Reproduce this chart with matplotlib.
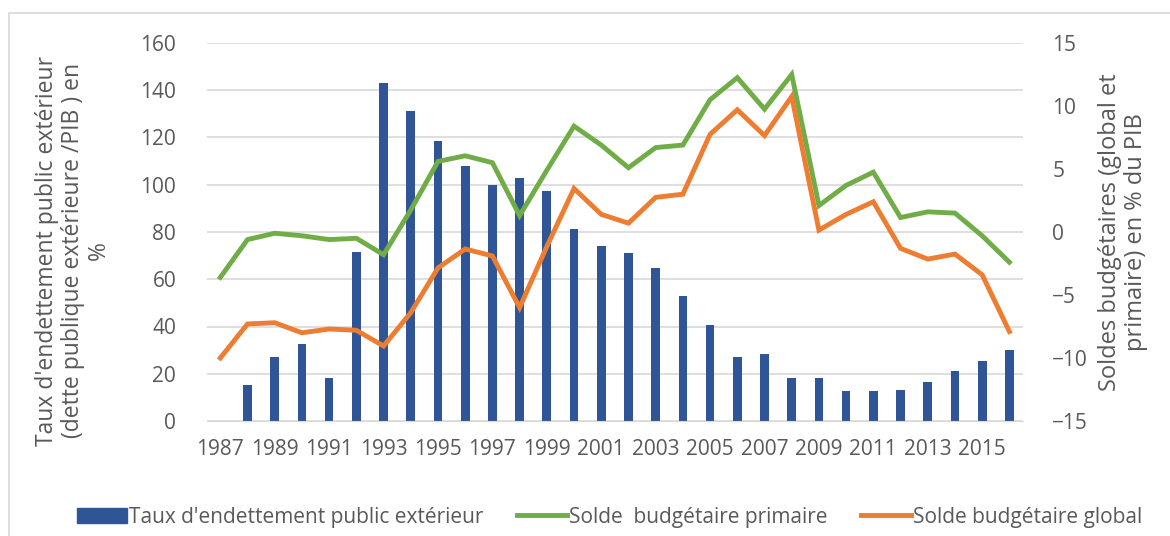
import numpy as np
import matplotlib.pyplot as plt
from matplotlib.lines import Line2D
from matplotlib.patches import Patch

plt.rcParams['font.family'] = ['Open Sans', 'DejaVu Sans']

years = list(range(1987, 2017))
dette = [0, 15.1, 27.0, 32.4, 18.4, 71.5, 143.1, 131.2, 118.6, 108.1,
         99.7, 103.0, 97.5, 81.2, 73.9, 71.0, 64.7, 52.8, 40.7, 27.3,
         28.5, 18.4, 18.4, 12.7, 12.9, 13.2, 16.7, 21.3, 25.4, 30.1]
solde_primaire = [-3.6, -0.6, -0.1, -0.3, -0.6, -0.5, -1.8, 1.75, 5.6, 6.05,
                  5.5, 1.3, 4.9, 8.4, 6.9, 5.1, 6.7, 6.9, 10.5, 12.25,
                  9.75, 12.5, 2.1, 3.7, 4.75, 1.15, 1.6, 1.5, -0.3, -2.4]
solde_global = [-10.0, -7.3, -7.2, -8.0, -7.7, -7.8, -9.05, -6.4, -2.85, -1.35,
                -1.9, -6.0, -1.15, 3.45, 1.4, 0.7, 2.75, 3.0, 7.75, 9.7,
                7.65, 10.75, 0.15, 1.4, 2.4, -1.3, -2.15, -1.75, -3.4, -7.9]

c_bar = '#2F5597'
c_green = '#70AD47'
c_orange = '#ED7D31'
c_text = '#595959'
c_grid = '#D9D9D9'

fig = plt.figure(figsize=(11.7, 5.36), dpi=100)
ax = fig.add_axes([206.7 / 1170, 1 - 421 / 536, (1023 - 206.7) / 1170, (421 - 43) / 536])
ax2 = ax.twinx()

ax.bar(years, dette, width=0.32, color=c_bar, zorder=2)
ax2.plot(years, solde_primaire, color=c_green, lw=3.5, solid_joinstyle='miter', zorder=3)
ax2.plot(years, solde_global, color=c_orange, lw=3.5, solid_joinstyle='miter', zorder=3)

ax.set_xlim(1986.5, 2016.5)
ax.set_ylim(0, 160)
ax.set_yticks(range(0, 161, 20))
ax2.set_ylim(-15, 15)
ax2.set_yticks(range(-15, 16, 5))
ax.set_xticks(years[::2])

ax.grid(axis='y', color=c_grid, lw=1.2, zorder=0)
ax.set_axisbelow(True)
for a in (ax, ax2):
    for s in a.spines.values():
        s.set_visible(False)
    a.tick_params(length=0, labelsize=15, colors=c_text)
ax.spines['bottom'].set_visible(True)
ax.spines['bottom'].set_color(c_grid)
ax.tick_params(axis='y', pad=22)
ax2.tick_params(axis='y', pad=21)
ax.tick_params(axis='x', pad=13)

ax.set_ylabel("Taux d'endettement public extérieur\n(dette publique extérieure /PIB ) en\n%",
              fontsize=16.5, color=c_text, linespacing=1.1)
ax.yaxis.set_label_coords(-0.118, 0.45)
ax2.set_ylabel("Soldes budgétaires (global et\nprimaire) en % du PIB",
               fontsize=17, color=c_text, linespacing=1.1)
ax2.yaxis.set_label_coords(1.092, 0.5)

handles = [Patch(color=c_bar), Line2D([], [], color=c_green, lw=3.5),
           Line2D([], [], color=c_orange, lw=3.5)]
labels = ["Taux d'endettement public extérieur", "Solde  budgétaire primaire",
          "Solde budgétaire global"]
fig.legend(handles, labels, loc='center', bbox_to_anchor=(0.521, 1 - 517 / 536), ncol=3,
           frameon=False, fontsize=15, labelcolor=c_text, handlelength=2.4,
           handletextpad=0.1, columnspacing=1.6)

border = plt.Rectangle((9 / 1170, -0.1), 1.2, 1 - 13 / 536 + 0.1, transform=fig.transFigure,
                       fill=False, edgecolor=c_grid, lw=1.2)
fig.patches.append(border)

fig.savefig('out.png', dpi=100)
